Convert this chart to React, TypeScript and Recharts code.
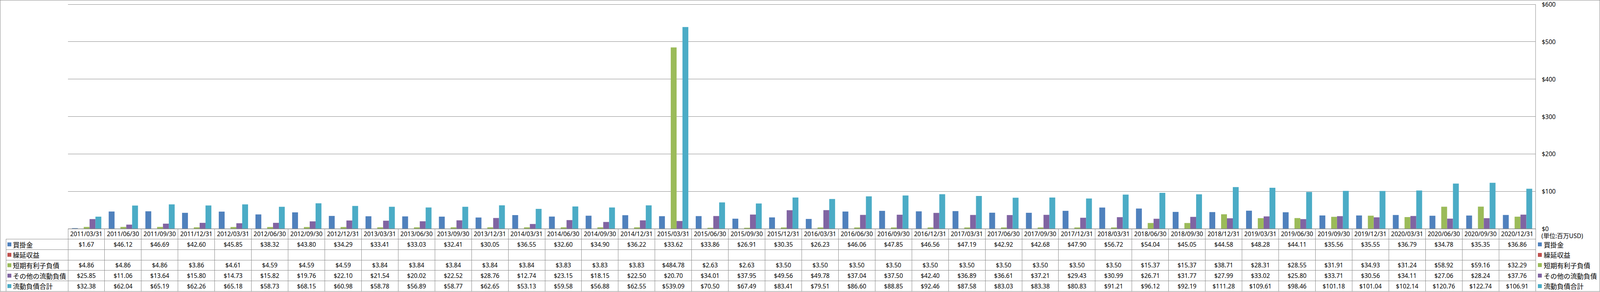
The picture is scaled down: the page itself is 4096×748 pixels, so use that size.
import React from "react";
import { Bar, BarChart, CartesianGrid, XAxis, YAxis } from "recharts";

const dates = [
  "2011/03/31", "2011/06/30", "2011/09/30", "2011/12/31",
  "2012/03/31", "2012/06/30", "2012/09/30", "2012/12/31",
  "2013/03/31", "2013/06/30", "2013/09/30", "2013/12/31",
  "2014/03/31", "2014/06/30", "2014/09/30", "2014/12/31",
  "2015/03/31", "2015/06/30", "2015/09/30", "2015/12/31",
  "2016/03/31", "2016/06/30", "2016/09/30", "2016/12/31",
  "2017/03/31", "2017/06/30", "2017/09/30", "2017/12/31",
  "2018/03/31", "2018/06/30", "2018/09/30", "2018/12/31",
  "2019/03/31", "2019/06/30", "2019/09/30", "2019/12/31",
  "2020/03/31", "2020/06/30", "2020/09/30", "2020/12/31",
];

// 買掛金
const accountsPayable = [
  1.67, 46.12, 46.69, 42.6, 45.85, 38.32, 43.8, 34.29, 33.41, 33.03,
  32.41, 30.05, 36.55, 32.6, 34.9, 36.22, 33.62, 33.86, 26.91, 30.35,
  26.23, 46.06, 47.85, 46.56, 47.19, 42.92, 42.68, 47.9, 56.72, 54.04,
  45.05, 44.58, 48.28, 44.11, 35.56, 35.55, 36.79, 34.78, 35.35, 36.86,
];

// 繰延収益 (no values)
const deferredRevenue: (number | null)[] = [
  null, null, null, null, null, null, null, null, null, null,
  null, null, null, null, null, null, null, null, null, null,
  null, null, null, null, null, null, null, null, null, null,
  null, null, null, null, null, null, null, null, null, null,
];

// 短期有利子負債
const shortTermDebt = [
  4.86, 4.86, 4.86, 3.86, 4.61, 4.59, 4.59, 4.59, 3.84, 3.84,
  3.84, 3.84, 3.84, 3.83, 3.83, 3.83, 484.78, 2.63, 2.63, 3.5,
  3.5, 3.5, 3.5, 3.5, 3.5, 3.5, 3.5, 3.5, 3.5, 15.37,
  15.37, 38.71, 28.31, 28.55, 31.91, 34.93, 31.24, 58.92, 59.16, 32.29,
];

// その他の流動負債
const otherCurrent = [
  25.85, 11.06, 13.64, 15.8, 14.73, 15.82, 19.76, 22.1, 21.54, 20.02,
  22.52, 28.76, 12.74, 23.15, 18.15, 22.5, 20.7, 34.01, 37.95, 49.56,
  49.78, 37.04, 37.5, 42.4, 36.89, 36.61, 37.21, 29.43, 30.99, 26.71,
  31.77, 27.99, 33.02, 25.8, 33.71, 30.56, 34.11, 27.06, 28.24, 37.76,
];

// 流動負債合計
const totalCurrent = [
  32.38, 62.04, 65.19, 62.26, 65.18, 58.73, 68.15, 60.98, 58.78, 56.89,
  58.77, 62.65, 53.13, 59.58, 56.88, 62.55, 539.09, 70.5, 67.49, 83.41,
  79.51, 86.6, 88.85, 92.46, 87.58, 83.03, 83.38, 80.83, 91.21, 96.12,
  92.19, 111.28, 109.61, 98.46, 101.18, 101.04, 102.14, 120.76, 122.74, 106.91,
];

const seriesNames = ["買掛金", "繰延収益", "短期有利子負債", "その他の流動負債", "流動負債合計"];
const seriesColors = ["#4F81BD", "#C0504D", "#9BBB59", "#8064A2", "#4BACC6"];
const seriesValues = [accountsPayable, deferredRevenue, shortTermDebt, otherCurrent, totalCurrent];
const yTicks = [0, 100, 200, 300, 400, 500, 600];

const data = dates.map((d, i) => {
  const row: any = { date: d };
  seriesValues.forEach((vals, k) => {
    row["s" + k] = vals[i];
  });
  return row;
});

const W = 4096;
const H = 748;
const PLOT_LEFT = 174;
const PLOT_TOP = 11;
const AXIS_W = 165;
const AXIS_H = 162;
const BAND = (W - PLOT_LEFT - AXIS_W) / dates.length;
const ROW = 26.7;
const LABEL_X = 15;
const LINE = "#868686";
const NUM_FONT = "'Noto Sans', 'Noto Sans CJK JP', sans-serif";
const JP_FONT = "'Noto Sans CJK JP', sans-serif";

const fmt = (v: number | null) => (v == null ? "" : "$" + v.toFixed(2));

const LabelColumn = function ({ right, top }: { right: number; top: number }) {
  return (
    <g>
      <line x1={LABEL_X} y1={top + ROW} x2={LABEL_X} y2={top + ROW * 6} stroke={LINE} shapeRendering="crispEdges" />
      {seriesNames.map((name, k) => (
        <g key={name}>
          <line
            x1={LABEL_X}
            y1={top + ROW * (k + 1)}
            x2={right}
            y2={top + ROW * (k + 1)}
            stroke={LINE}
            shapeRendering="crispEdges"
          />
          <rect x={19} y={top + ROW * (k + 1.5) - 5} width={10} height={10} fill={seriesColors[k]} />
          <text
            x={33}
            y={top + ROW * (k + 1.5)}
            dominantBaseline="central"
            fontSize={17}
            fontFamily={JP_FONT}
            fill="#000"
          >
            {name}
          </text>
        </g>
      ))}
    </g>
  );
};

const TableTick = function (props: any) {
  const { x, y, payload } = props;
  const i = payload.index;
  const l = x - BAND / 2;
  const r = x + BAND / 2;
  return (
    <g>
      {i === 0 && <LabelColumn right={l} top={y} />}
      <line x1={l} y1={y} x2={l} y2={y + ROW * 6} stroke={LINE} shapeRendering="crispEdges" />
      <line x1={r} y1={y} x2={r} y2={y + ROW * 6} stroke={LINE} shapeRendering="crispEdges" />
      <text
        x={x}
        y={y + ROW / 2}
        textAnchor="middle"
        dominantBaseline="central"
        fontSize={15.5}
        fontFamily={NUM_FONT}
        fill="#000"
      >
        {payload.value}
      </text>
      {seriesValues.map((vals, k) => (
        <g key={k}>
          <line
            x1={l}
            y1={y + ROW * (k + 1)}
            x2={r}
            y2={y + ROW * (k + 1)}
            stroke={LINE}
            shapeRendering="crispEdges"
          />
          <text
            x={x}
            y={y + ROW * (k + 1.5)}
            textAnchor="middle"
            dominantBaseline="central"
            fontSize={15.5}
            fontFamily={NUM_FONT}
            fill="#000"
          >
            {fmt(vals[i])}
          </text>
        </g>
      ))}
    </g>
  );
};

const MoneyTick = function (props: any) {
  const { x, y, payload } = props;
  return (
    <text
      x={x}
      y={y}
      textAnchor="start"
      dominantBaseline="central"
      fontSize={15.5}
      fontFamily={NUM_FONT}
      fill="#000"
    >
      {"$" + payload.value}
    </text>
  );
};

const App = function () {
  const tableTop = H - AXIS_H;
  return (
    <div style={{ position: "relative", width: W, height: H, background: "#fff" }}>
      <style>{"body{margin:0;}"}</style>
      <BarChart
        width={W}
        height={H}
        data={data}
        margin={{ top: PLOT_TOP, right: 0, left: PLOT_LEFT, bottom: 0 }}
        barCategoryGap="11%"
        barGap={0}
      >
        <CartesianGrid stroke={LINE} vertical={false} shapeRendering="crispEdges" />
        <XAxis
          dataKey="date"
          interval={0}
          height={AXIS_H}
          tickSize={0}
          tickMargin={0}
          tickLine={false}
          axisLine={{ stroke: LINE }}
          tick={<TableTick />}
        />
        <YAxis
          orientation="right"
          width={AXIS_W}
          domain={[0, 600]}
          ticks={yTicks}
          tickSize={0}
          tickMargin={16}
          tickLine={false}
          axisLine={{ stroke: LINE }}
          tick={<MoneyTick />}
        />
        {seriesNames.map((name, k) => (
          <Bar
            key={name}
            dataKey={"s" + k}
            name={name}
            fill={seriesColors[k]}
            isAnimationActive={false}
          />
        ))}
      </BarChart>
      <div
        style={{
          position: "absolute",
          left: 3946,
          top: tableTop + 8,
          fontSize: 15.5,
          fontFamily: NUM_FONT,
          lineHeight: "20px",
          whiteSpace: "nowrap",
        }}
      >
        (単位:百万USD)
      </div>
      {seriesNames.map((name, k) => (
        <div
          key={name}
          style={{
            position: "absolute",
            left: 3937,
            top: tableTop + ROW * (k + 1),
            height: ROW,
            display: "flex",
            alignItems: "center",
            whiteSpace: "nowrap",
            fontSize: 17,
            fontFamily: JP_FONT,
          }}
        >
          <span
            style={{ display: "inline-block", width: 10, height: 10, background: seriesColors[k], marginRight: 5 }}
          />
          {name}
        </div>
      ))}
      <div
        style={{
          position: "absolute",
          left: 0,
          top: 0,
          width: W,
          height: H - 1,
          boxSizing: "border-box",
          border: "1px solid " + LINE,
          pointerEvents: "none",
        }}
      />
    </div>
  );
};

export default App;
